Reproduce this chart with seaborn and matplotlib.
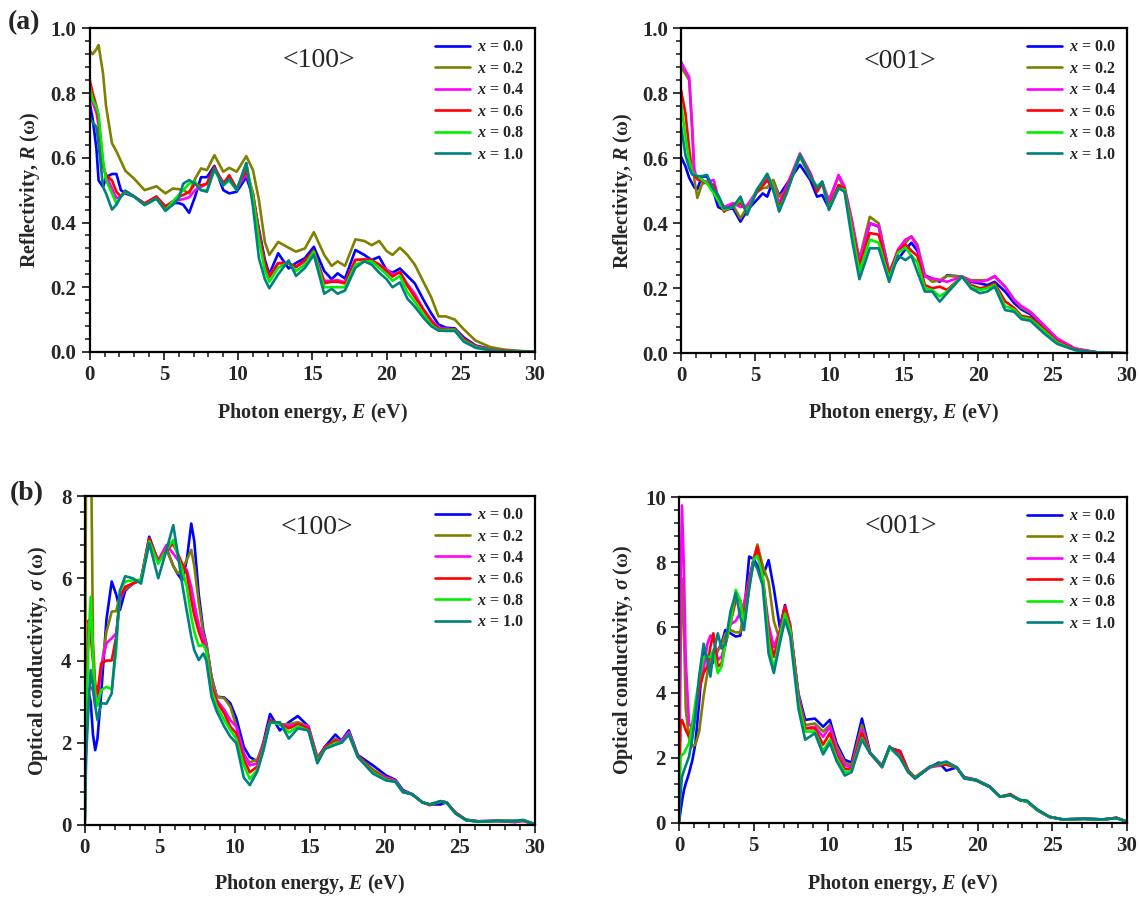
import numpy as np
import pandas as pd
import seaborn as sns
from matplotlib import pyplot as plt
from matplotlib.ticker import MultipleLocator, FormatStrFormatter

# ---------------- data ---------------- #
x_values = ["0.0", "0.2", "0.4", "0.6", "0.8", "1.0"]

# (a) reflectivity, <100>
e_r100 = [0, 0.2, 0.45, 0.6, 0.9, 1.1, 1.5, 1.8, 2.1, 2.4, 3.0, 3.7, 4.5, 5.1, 5.6,
          6.0, 6.3, 6.7, 7.1, 7.5, 7.9, 8.4, 9.0, 9.4, 9.9, 10.55, 11.0, 11.4, 11.8, 12.1,
          12.7, 13.4, 13.9, 14.5, 15.1, 15.8, 16.3, 16.7, 17.2, 17.9, 18.5, 19.0, 19.5, 20.0,
          20.4, 20.9, 21.4, 21.9, 22.5, 23.0, 23.5, 24.0, 24.6, 25.2, 26.0, 27.0, 28.0, 30.0]
r100_00 = [0.77, 0.72, 0.63, 0.53, 0.51, 0.54, 0.55, 0.55, 0.50, 0.49,
           0.48, 0.455, 0.475, 0.45, 0.46, 0.46, 0.455, 0.43, 0.48, 0.54,
           0.54, 0.575, 0.50, 0.49, 0.495, 0.54, 0.48, 0.38, 0.285, 0.24,
           0.305, 0.258, 0.275, 0.29, 0.325, 0.25, 0.225, 0.243, 0.227, 0.315,
           0.30, 0.284, 0.294, 0.253, 0.245, 0.258, 0.235, 0.212, 0.16, 0.12,
           0.085, 0.075, 0.073, 0.045, 0.02, 0.009, 0.004, 0.0]
r100_02 = [0.93, 0.92, 0.935, 0.948, 0.86, 0.76, 0.645, 0.62, 0.59, 0.56,
           0.535, 0.50, 0.512, 0.49, 0.505, 0.503, 0.50, 0.49, 0.535, 0.567,
           0.562, 0.608, 0.557, 0.569, 0.557, 0.605, 0.562, 0.47, 0.34, 0.30,
           0.34, 0.322, 0.31, 0.32, 0.37, 0.30, 0.266, 0.28, 0.266, 0.348,
           0.343, 0.33, 0.343, 0.312, 0.30, 0.322, 0.30, 0.27, 0.215, 0.17,
           0.11, 0.11, 0.10, 0.07, 0.035, 0.015, 0.007, 0.0]
r100_04 = [0.79, 0.77, 0.74, 0.70, 0.575, 0.545, 0.505, 0.475, 0.48, 0.495,
           0.48, 0.459, 0.48, 0.449, 0.465, 0.47, 0.472, 0.478, 0.50, 0.51,
           0.52, 0.565, 0.525, 0.53, 0.505, 0.55, 0.49, 0.37, 0.27, 0.235,
           0.275, 0.275, 0.262, 0.28, 0.31, 0.22, 0.22, 0.222, 0.215, 0.285,
           0.285, 0.28, 0.27, 0.255, 0.24, 0.245, 0.21, 0.18, 0.13, 0.10,
           0.075, 0.072, 0.07, 0.04, 0.018, 0.008, 0.003, 0.0]
r100_06 = [0.84, 0.80, 0.76, 0.72, 0.572, 0.546, 0.53, 0.495, 0.48, 0.498,
           0.48, 0.459, 0.48, 0.449, 0.465, 0.48, 0.485, 0.495, 0.52, 0.515,
           0.52, 0.572, 0.52, 0.546, 0.505, 0.562, 0.49, 0.366, 0.274, 0.232,
           0.274, 0.274, 0.263, 0.284, 0.313, 0.212, 0.217, 0.217, 0.212, 0.284,
           0.286, 0.284, 0.27, 0.25, 0.233, 0.248, 0.205, 0.17, 0.13, 0.095,
           0.072, 0.07, 0.07, 0.04, 0.017, 0.007, 0.003, 0.0]
r100_08 = [0.82, 0.78, 0.757, 0.735, 0.593, 0.531, 0.49, 0.459, 0.48, 0.495,
           0.48, 0.454, 0.474, 0.438, 0.465, 0.485, 0.50, 0.52, 0.526, 0.50,
           0.50, 0.562, 0.515, 0.53, 0.50, 0.582, 0.48, 0.346, 0.253, 0.217,
           0.26, 0.277, 0.25, 0.27, 0.31, 0.20, 0.20, 0.20, 0.20, 0.27,
           0.28, 0.28, 0.26, 0.24, 0.22, 0.235, 0.185, 0.155, 0.115, 0.085,
           0.068, 0.068, 0.068, 0.035, 0.015, 0.006, 0.002, 0.0]
r100_10 = [0.725, 0.71, 0.695, 0.64, 0.51, 0.49, 0.44, 0.455, 0.48, 0.498,
           0.48, 0.454, 0.474, 0.436, 0.455, 0.475, 0.52, 0.531, 0.52, 0.50,
           0.495, 0.567, 0.515, 0.536, 0.50, 0.584, 0.449, 0.29, 0.225, 0.197,
           0.24, 0.283, 0.235, 0.26, 0.30, 0.18, 0.195, 0.18, 0.19, 0.26,
           0.28, 0.27, 0.245, 0.225, 0.20, 0.215, 0.165, 0.14, 0.105, 0.08,
           0.066, 0.065, 0.065, 0.032, 0.013, 0.005, 0.002, 0.0]

# (a) reflectivity, <001>
e_r001 = [0, 0.3, 0.55, 0.75, 0.9, 1.1, 1.4, 1.75, 2.2, 2.5, 2.9, 3.5, 4.0, 4.45, 5.1,
          5.5, 5.8, 6.2, 6.6, 7.1, 8.0, 8.7, 9.15, 9.5, 9.95, 10.6, 11.0, 11.5, 12.0, 12.7,
          13.3, 14.0, 14.6, 15.1, 15.5, 15.9, 16.4, 16.9, 17.4, 17.9, 18.9, 19.5, 20.1, 20.6,
          21.1, 21.8, 22.4, 22.9, 23.5, 24.4, 25.3, 26.5, 28, 30]
r001_00 = [0.605, 0.575, 0.54, 0.523, 0.51, 0.505, 0.544, 0.544, 0.495, 0.45,
           0.441, 0.446, 0.405, 0.44, 0.472, 0.492, 0.482, 0.533, 0.485, 0.52,
           0.58, 0.533, 0.482, 0.487, 0.446, 0.513, 0.505, 0.40, 0.27, 0.40,
           0.39, 0.25, 0.29, 0.32, 0.34, 0.315, 0.24, 0.23, 0.22, 0.24,
           0.236, 0.22, 0.215, 0.21, 0.22, 0.19, 0.155, 0.135, 0.12, 0.08,
           0.04, 0.012, 0.003, 0.0]
r001_02 = [0.88, 0.86, 0.84, 0.687, 0.533, 0.478, 0.52, 0.528, 0.513, 0.47,
           0.445, 0.456, 0.415, 0.45, 0.495, 0.508, 0.51, 0.533, 0.482, 0.503,
           0.605, 0.54, 0.513, 0.523, 0.472, 0.544, 0.503, 0.40, 0.29, 0.42,
           0.40, 0.25, 0.31, 0.34, 0.36, 0.335, 0.24, 0.22, 0.225, 0.238,
           0.236, 0.225, 0.225, 0.225, 0.235, 0.205, 0.165, 0.14, 0.125, 0.085,
           0.043, 0.014, 0.003, 0.0]
r001_04 = [0.897, 0.87, 0.85, 0.70, 0.564, 0.535, 0.53, 0.528, 0.533, 0.48,
           0.45, 0.462, 0.45, 0.455, 0.50, 0.52, 0.544, 0.513, 0.462, 0.513,
           0.615, 0.555, 0.503, 0.528, 0.467, 0.549, 0.513, 0.41, 0.285, 0.40,
           0.392, 0.246, 0.32, 0.35, 0.359, 0.328, 0.236, 0.23, 0.226, 0.22,
           0.236, 0.222, 0.22, 0.225, 0.238, 0.205, 0.165, 0.145, 0.128, 0.087,
           0.046, 0.015, 0.003, 0.0]
r001_06 = [0.81, 0.738, 0.63, 0.554, 0.545, 0.538, 0.53, 0.523, 0.518, 0.472,
           0.436, 0.456, 0.462, 0.436, 0.497, 0.515, 0.533, 0.503, 0.451, 0.503,
           0.61, 0.55, 0.497, 0.523, 0.451, 0.518, 0.508, 0.39, 0.27, 0.37,
           0.365, 0.24, 0.315, 0.335, 0.315, 0.30, 0.21, 0.20, 0.205, 0.195,
           0.236, 0.21, 0.20, 0.205, 0.215, 0.16, 0.14, 0.115, 0.11, 0.075,
           0.037, 0.012, 0.002, 0.0]
r001_08 = [0.77, 0.667, 0.595, 0.559, 0.55, 0.545, 0.535, 0.523, 0.492, 0.47,
           0.441, 0.451, 0.472, 0.436, 0.503, 0.53, 0.552, 0.513, 0.441, 0.492,
           0.61, 0.544, 0.513, 0.528, 0.446, 0.508, 0.503, 0.38, 0.25, 0.35,
           0.34, 0.23, 0.31, 0.325, 0.30, 0.28, 0.20, 0.195, 0.175, 0.19,
           0.236, 0.205, 0.195, 0.20, 0.21, 0.145, 0.135, 0.11, 0.105, 0.07,
           0.033, 0.01, 0.002, 0.0]
r001_10 = [0.70, 0.61, 0.57, 0.55, 0.548, 0.545, 0.545, 0.549, 0.505, 0.487,
           0.446, 0.451, 0.482, 0.426, 0.503, 0.53, 0.552, 0.503, 0.436, 0.492,
           0.61, 0.544, 0.508, 0.528, 0.441, 0.508, 0.497, 0.35, 0.228, 0.323,
           0.323, 0.22, 0.30, 0.287, 0.30, 0.25, 0.19, 0.19, 0.159, 0.185,
           0.236, 0.20, 0.185, 0.19, 0.205, 0.133, 0.128, 0.105, 0.10, 0.062,
           0.029, 0.01, 0.002, 0.0]

# (b) optical conductivity, <100>
e_s100 = [0, 0.1, 0.27, 0.4, 0.55, 0.7, 0.85, 1.1, 1.45, 1.8, 2.1, 2.35, 2.7, 3.2, 3.75,
          4.3, 4.9, 5.45, 5.9, 6.2, 6.5, 6.8, 7.1, 7.3, 7.6, 7.9, 8.1, 8.45, 8.8, 9.3,
          9.7, 10.1, 10.6, 11.0, 11.5, 11.9, 12.35, 13.0, 13.6, 14.2, 14.9, 15.5, 16.0, 16.7,
          17.1, 17.6, 18.2, 19.2, 20.1, 20.7, 21.2, 21.8, 22.5, 23.0, 23.7, 24.1, 24.7, 25.4,
          26.2, 27.5, 28.7, 29.2, 30]
s100_00 = [0, 2.5, 3.2, 3.0, 2.2, 1.82, 2.1, 3.2, 5.0, 5.92,
           5.6, 5.23, 5.7, 5.87, 5.96, 7.01, 6.4, 6.73, 6.3, 6.1,
           5.95, 6.44, 7.33, 6.9, 5.6, 4.74, 4.42, 3.6, 3.12, 3.1,
           2.96, 2.6, 1.9, 1.65, 1.55, 2.0, 2.7, 2.3, 2.5, 2.65,
           2.4, 1.62, 1.9, 2.2, 2.05, 2.3, 1.7, 1.45, 1.2, 1.1,
           0.85, 0.75, 0.55, 0.5, 0.5, 0.55, 0.3, 0.13, 0.09, 0.1,
           0.07, 0.12, 0.02]
s100_02 = [0, 10, 10, 10, 4.5, 3.4, 3.1, 3.8, 4.7, 5.19,
           5.2, 5.6, 5.73, 5.87, 5.96, 6.93, 6.44, 6.7, 6.3, 6.12,
           6.2, 6.45, 6.69, 6.3, 5.4, 4.66, 4.42, 3.6, 3.12, 3.08,
           2.88, 2.4, 1.7, 1.52, 1.6, 1.95, 2.55, 2.45, 2.45, 2.5,
           2.4, 1.65, 1.85, 2.1, 2.0, 2.25, 1.68, 1.35, 1.15, 1.08,
           0.82, 0.75, 0.55, 0.5, 0.58, 0.55, 0.3, 0.13, 0.09, 0.1,
           0.08, 0.1, 0.02]
s100_04 = [0, 2.0, 3.3, 3.35, 3.28, 2.9, 3.0, 3.85, 4.42, 4.54,
           4.66, 5.47, 5.79, 5.87, 5.96, 6.93, 6.44, 6.81, 6.6, 6.45,
           6.3, 6.2, 5.79, 5.4, 4.85, 4.58, 4.34, 3.44, 3.04, 2.8,
           2.55, 2.39, 1.75, 1.45, 1.5, 1.95, 2.55, 2.45, 2.4, 2.45,
           2.4, 1.6, 1.9, 2.05, 2.05, 2.25, 1.68, 1.3, 1.15, 1.08,
           0.82, 0.75, 0.55, 0.5, 0.57, 0.55, 0.3, 0.12, 0.09, 0.1,
           0.09, 0.1, 0.02]
s100_06 = [0, 3.3, 4.98, 4.6, 4.0, 3.4, 3.2, 3.93, 4.0, 4.0,
           4.58, 5.55, 5.79, 5.87, 5.96, 6.97, 6.4, 6.7, 6.83, 6.6,
           6.35, 6.12, 5.47, 5.1, 4.7, 4.4, 4.25, 3.36, 3.0, 2.71,
           2.39, 2.23, 1.6, 1.28, 1.42, 1.9, 2.55, 2.45, 2.35, 2.45,
           2.35, 1.58, 1.9, 2.05, 2.0, 2.2, 1.68, 1.3, 1.12, 1.06,
           0.8, 0.75, 0.55, 0.48, 0.57, 0.55, 0.3, 0.12, 0.08, 0.1,
           0.1, 0.1, 0.02]
s100_08 = [0, 2.5, 4.6, 5.55, 4.09, 3.2, 2.9, 3.28, 3.36, 3.3,
           4.25, 5.71, 5.92, 5.95, 5.96, 6.9, 6.35, 6.7, 6.93, 6.55,
           6.2, 5.8, 5.06, 4.7, 4.35, 4.38, 4.25, 3.28, 2.88, 2.55,
           2.31, 2.1, 1.45, 1.12, 1.34, 1.85, 2.5, 2.45, 2.25, 2.4,
           2.3, 1.55, 1.85, 2.0, 2.0, 2.2, 1.65, 1.28, 1.1, 1.05,
           0.8, 0.75, 0.55, 0.5, 0.57, 0.55, 0.28, 0.12, 0.08, 0.1,
           0.1, 0.12, 0.02]
s100_10 = [0, 1.7, 3.0, 3.77, 3.4, 2.9, 2.55, 2.96, 2.95, 3.2,
           4.5, 5.7, 6.05, 6.0, 5.87, 6.85, 6.0, 6.69, 7.29, 6.6,
           5.85, 5.2, 4.58, 4.25, 4.01, 4.17, 4.0, 3.12, 2.76, 2.39,
           2.15, 1.99, 1.15, 0.97, 1.3, 1.8, 2.5, 2.5, 2.1, 2.35,
           2.3, 1.5, 1.85, 1.95, 2.0, 2.2, 1.65, 1.25, 1.08, 1.05,
           0.8, 0.75, 0.55, 0.5, 0.58, 0.55, 0.28, 0.12, 0.08, 0.1,
           0.1, 0.12, 0.02]

# (b) optical conductivity, <001>
e_s001 = [0, 0.1, 0.2, 0.33, 0.45, 0.67, 0.9, 1.1, 1.35, 1.65, 1.9, 2.1, 2.3, 2.6, 2.85,
          3.1, 3.45, 3.8, 4.1, 4.35, 4.7, 5.0, 5.25, 5.6, 6.0, 6.35, 6.75, 7.1, 7.45, 8.0,
          8.45, 9.1, 9.65, 10.1, 10.55, 11.1, 11.55, 12.25, 12.8, 13.6, 14.1, 14.8, 15.35, 15.8,
          16.8, 17.4, 17.9, 18.6, 19.1, 19.9, 20.8, 21.5, 22.2, 22.8, 23.3, 24.0, 24.8, 25.7,
          27.1, 28.4, 29.3, 30]
s001_00 = [0, 0.35, 0.65, 1.0, 1.2, 1.52, 1.93, 2.44, 3.7, 5.4,
           5.0, 4.8, 4.95, 5.3, 5.5, 5.92, 5.82, 5.72, 5.75, 6.4,
           8.18, 8.1, 7.9, 7.56, 8.07, 7.2, 6.0, 6.69, 5.92, 3.97,
           3.16, 3.2, 2.95, 3.16, 2.44, 1.93, 1.85, 3.2, 2.15, 1.75,
           2.3, 2.2, 1.6, 1.36, 1.7, 1.85, 1.6, 1.7, 1.4, 1.32,
           1.12, 0.8, 0.85, 0.7, 0.65, 0.4, 0.18, 0.1, 0.12, 0.1,
           0.15, 0.03]
s001_02 = [0, 5.0, 7.5, 6.0, 3.5, 2.6, 2.34, 2.4, 2.8, 3.9,
           4.6, 5.0, 5.1, 5.3, 5.45, 5.8, 5.92, 5.85, 5.85, 6.43,
           7.4, 8.1, 8.55, 7.9, 7.4, 6.2, 5.6, 6.54, 6.0, 3.9,
           3.0, 3.05, 2.8, 3.0, 2.35, 1.85, 1.75, 3.0, 2.13, 1.77,
           2.3, 2.1, 1.6, 1.38, 1.72, 1.78, 1.8, 1.7, 1.38, 1.32,
           1.1, 0.8, 0.85, 0.7, 0.65, 0.4, 0.18, 0.1, 0.12, 0.1,
           0.14, 0.03]
s001_04 = [0, 7.0, 9.75, 7.8, 5.0, 3.05, 2.9, 3.26, 4.08, 4.7,
           5.5, 5.75, 5.7, 5.0, 5.1, 5.5, 6.1, 6.2, 6.45, 6.74,
           7.5, 8.1, 8.4, 7.5, 6.1, 5.4, 5.9, 6.64, 6.1, 3.87,
           2.9, 2.95, 2.64, 2.95, 2.23, 1.77, 1.7, 2.85, 2.13, 1.75,
           2.32, 2.15, 1.58, 1.38, 1.7, 1.75, 1.8, 1.68, 1.38, 1.3,
           1.1, 0.8, 0.85, 0.7, 0.65, 0.38, 0.18, 0.1, 0.12, 0.1,
           0.15, 0.03]
s001_06 = [0, 3.05, 3.16, 3.0, 2.85, 2.64, 3.05, 3.5, 4.1, 4.6,
           4.8, 5.4, 5.82, 4.8, 4.9, 5.45, 6.13, 6.84, 6.84, 6.23,
           7.4, 8.1, 8.48, 7.6, 5.8, 5.1, 5.82, 6.64, 6.02, 3.8,
           2.9, 2.9, 2.4, 2.75, 2.1, 1.65, 1.65, 2.75, 2.13, 1.7,
           2.3, 2.2, 1.6, 1.4, 1.72, 1.78, 1.78, 1.7, 1.38, 1.3,
           1.1, 0.8, 0.88, 0.7, 0.65, 0.38, 0.18, 0.1, 0.12, 0.1,
           0.15, 0.03]
s001_08 = [0, 2.03, 2.08, 2.13, 2.25, 2.44, 3.05, 3.7, 4.4, 5.1,
           5.1, 5.1, 5.3, 4.6, 4.8, 5.5, 6.13, 7.15, 6.84, 6.13,
           7.2, 8.1, 8.2, 7.6, 5.61, 4.69, 5.72, 6.43, 5.92, 3.7,
           2.8, 2.8, 2.2, 2.55, 2.0, 1.55, 1.6, 2.6, 2.13, 1.72,
           2.3, 2.0, 1.55, 1.38, 1.72, 1.8, 1.85, 1.7, 1.36, 1.3,
           1.1, 0.8, 0.85, 0.7, 0.65, 0.38, 0.18, 0.1, 0.12, 0.1,
           0.14, 0.03]
s001_10 = [0, 0.9, 1.4, 1.6, 1.75, 2.03, 2.6, 3.3, 4.5, 5.5,
           5.0, 4.49, 5.2, 5.82, 5.35, 5.5, 6.5, 7.05, 6.33, 5.92,
           7.2, 8.02, 7.8, 7.3, 5.2, 4.6, 5.51, 6.23, 5.72, 3.5,
           2.55, 2.75, 2.1, 2.45, 1.9, 1.45, 1.55, 2.55, 2.13, 1.72,
           2.35, 2.0, 1.55, 1.36, 1.72, 1.82, 1.88, 1.7, 1.36, 1.3,
           1.1, 0.8, 0.85, 0.7, 0.68, 0.4, 0.18, 0.1, 0.12, 0.1,
           0.14, 0.03]
# ---------------------------------------------------------- #

colors = ["#0000ff", "#808000", "#ff00ff", "#ff0000", "#00ee00", "#008080"]

sns.set_style("ticks")
plt.rcParams["font.family"] = ["Liberation Serif", "DejaVu Serif"]
plt.rcParams["font.weight"] = "bold"
plt.rcParams["axes.labelweight"] = "bold"
plt.rcParams["mathtext.fontset"] = "custom"
plt.rcParams["mathtext.rm"] = "Liberation Serif:bold"
plt.rcParams["mathtext.it"] = "Liberation Serif:italic:bold"
plt.rcParams["mathtext.bf"] = "Liberation Serif:bold"

W, H = 1139, 898
fig = plt.figure(figsize=(W / 100, H / 100), dpi=100)


def rect(l, t, r, b):
    return [l / W, 1 - b / H, (r - l) / W, (b - t) / H]


def make_df(grid, series):
    parts = []
    for lab, vals in zip(x_values, series):
        d = pd.DataFrame({"E": grid, "val": vals})
        d["x"] = "$x$ = " + lab
        parts.append(d)
    return pd.concat(parts, ignore_index=True)


panels = [
    (e_r100, [r100_00, r100_02, r100_04, r100_06, r100_08, r100_10], "<100>",
     "Reflectivity, $R$ (ω)", 1.0, 0.2, 0.04, "%.1f", rect(89.7, 28.3, 535, 352),
     (-0.108, -0.151), (0.515, 0.9)),
    (e_r001, [r001_00, r001_02, r001_04, r001_06, r001_08, r001_10], "<001>",
     "Reflectivity, $R$ (ω)", 1.0, 0.2, 0.04, "%.1f", rect(681, 28.3, 1127, 353.3),
     (-0.103, -0.147), (0.49, 0.897)),
    (e_s100, [s100_00, s100_02, s100_04, s100_06, s100_08, s100_10], "<100>",
     "Optical conductivity, $\\sigma$ (ω)", 8, 2, 0.4, "%d", rect(84.7, 496, 535, 825),
     (-0.077, -0.143), (0.516, 0.905)),
    (e_s001, [s001_00, s001_02, s001_04, s001_06, s001_08, s001_10], "<001>",
     "Optical conductivity, $\\sigma$ (ω)", 10, 2, 0.4, "%d", rect(679, 497.3, 1127, 822.7),
     (-0.098, -0.152), (0.495, 0.91)),
]

for grid, series, tag, ylab, ytop, ymaj, ymin, yfmt, box, lab_xy, tag_xy in panels:
    ax = fig.add_axes(box)
    df = make_df(grid, series)
    sns.lineplot(data=df, x="E", y="val", hue="x", palette=colors, estimator=None,
                 sort=False, linewidth=1.9, ax=ax)
    ax.set_xlim(0, 30)
    ax.set_ylim(0, ytop)
    ax.xaxis.set_major_locator(MultipleLocator(5))
    ax.xaxis.set_minor_locator(MultipleLocator(1))
    ax.yaxis.set_major_locator(MultipleLocator(ymaj))
    ax.yaxis.set_minor_locator(MultipleLocator(ymin))
    ax.yaxis.set_major_formatter(FormatStrFormatter(yfmt))
    ax.tick_params(which="major", direction="out", length=6, width=1.3, labelsize=15)
    ax.tick_params(which="minor", direction="out", length=3.5, width=1.2)
    for s in ax.spines.values():
        s.set_linewidth(1.6)
        s.set_color("black")
    ax.set_xlabel("Photon energy, $E$ (eV)", fontsize=14.5)
    ax.set_ylabel(ylab, fontsize=14.5)
    ax.yaxis.set_label_coords(lab_xy[0], 0.5)
    ax.xaxis.set_label_coords(0.5, lab_xy[1])
    ax.text(tag_xy[0], tag_xy[1], tag, transform=ax.transAxes, ha="center", va="center",
            fontsize=20, fontweight="normal")
    h, l = ax.get_legend_handles_labels()
    ax.legend(h, l, loc="upper right", frameon=False, fontsize=11.5, handlelength=2.2,
              handletextpad=0.4, labelspacing=0.34, borderaxespad=0.3)

fig.text(8 / W, 1 - 23 / H, "(a)", ha="left", va="center", fontsize=20, fontweight="bold")
fig.text(10 / W, 1 - 494 / H, "(b)", ha="left", va="center", fontsize=20, fontweight="bold")

fig.savefig("out.png", dpi=100)
